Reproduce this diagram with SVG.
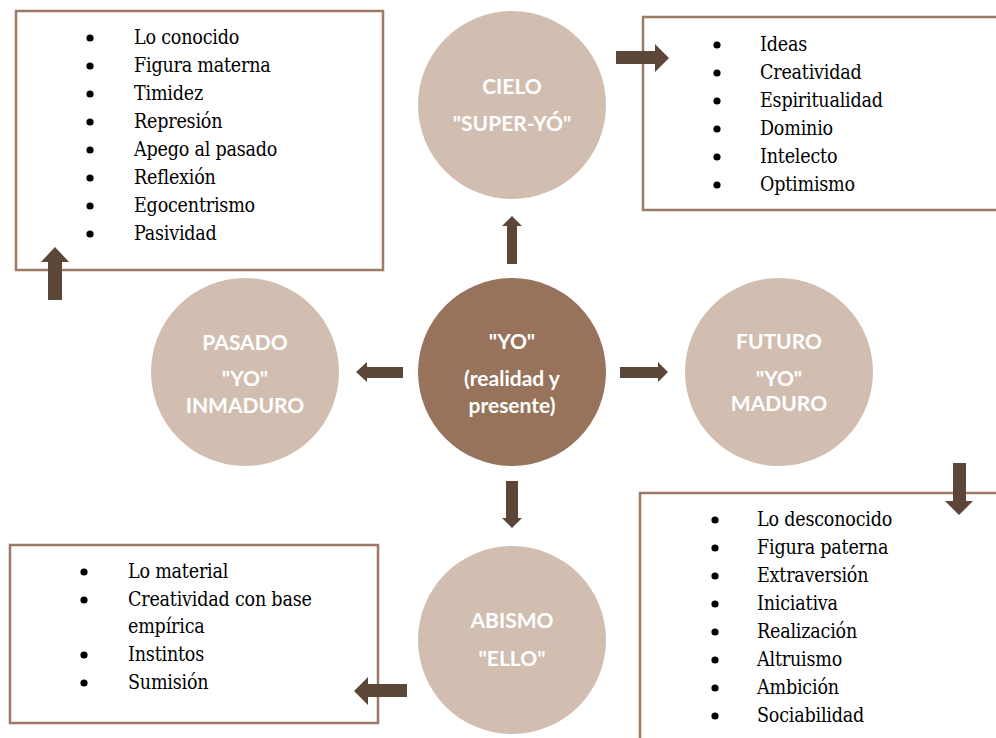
<svg xmlns="http://www.w3.org/2000/svg" width="996" height="738" viewBox="0 0 996 738">
<style>
.box{fill:#fff;stroke:#9C7A65;stroke-width:2.5}
.lc{fill:#D1BEB1}
.dc{fill:#98735B}
.lbl{font-family:Lato,"Liberation Sans",sans-serif;font-weight:bold;font-size:21px;fill:#fff;text-anchor:middle}
.it{font-family:'DejaVu Serif Condensed','Liberation Serif','DejaVu Serif',serif;font-size:19.5px;letter-spacing:-0.2px;fill:#000}
.bul{fill:#000}
.arr{fill:#5C4637}
</style>
<defs><circle id="b" r="3.6" class="bul"/></defs>
<rect width="996" height="738" fill="#fff"/>
<g id="box-past">
<rect class="box" x="16" y="11" width="367" height="259"/>
<g class="it">
<text x="134" y="44">Lo conocido</text>
<text x="134" y="72">Figura materna</text>
<text x="134" y="100">Timidez</text>
<text x="134" y="128">Represión</text>
<text x="134" y="156">Apego al pasado</text>
<text x="134" y="184">Reflexión</text>
<text x="134" y="212">Egocentrismo</text>
<text x="134" y="240">Pasividad</text>
</g>
<use href="#b" x="90" y="38"/><use href="#b" x="90" y="66"/><use href="#b" x="90" y="94"/><use href="#b" x="90" y="122"/>
<use href="#b" x="90" y="150"/><use href="#b" x="90" y="178"/><use href="#b" x="90" y="206"/><use href="#b" x="90" y="234"/>
</g>
<g id="box-cielo">
<rect class="box" x="643" y="17" width="370" height="193"/>
<g class="it">
<text x="760" y="51">Ideas</text>
<text x="760" y="79">Creatividad</text>
<text x="760" y="107">Espiritualidad</text>
<text x="760" y="135">Dominio</text>
<text x="760" y="163">Intelecto</text>
<text x="760" y="191">Optimismo</text>
</g>
<use href="#b" x="717" y="45"/><use href="#b" x="717" y="73"/><use href="#b" x="717" y="101"/>
<use href="#b" x="717" y="129"/><use href="#b" x="717" y="157"/><use href="#b" x="717" y="185"/>
</g>
<g id="box-future">
<rect class="box" x="640" y="493" width="370" height="260"/>
<g class="it">
<text x="757" y="526">Lo desconocido</text>
<text x="757" y="554">Figura paterna</text>
<text x="757" y="582">Extraversión</text>
<text x="757" y="610">Iniciativa</text>
<text x="757" y="638">Realización</text>
<text x="757" y="666">Altruismo</text>
<text x="757" y="694">Ambición</text>
<text x="757" y="722">Sociabilidad</text>
</g>
<use href="#b" x="715" y="520"/><use href="#b" x="715" y="548"/><use href="#b" x="715" y="576"/><use href="#b" x="715" y="604"/>
<use href="#b" x="715" y="632"/><use href="#b" x="715" y="660"/><use href="#b" x="715" y="688"/><use href="#b" x="715" y="716"/>
</g>
<g id="box-ello">
<rect class="box" x="10" y="545" width="368" height="178"/>
<g class="it">
<text x="128" y="578">Lo material</text>
<text x="128" y="606">Creatividad con base</text>
<text x="128" y="633">empírica</text>
<text x="128" y="661">Instintos</text>
<text x="128" y="689">Sumisión</text>
</g>
<use href="#b" x="84" y="572"/><use href="#b" x="84" y="600"/><use href="#b" x="84" y="655"/><use href="#b" x="84" y="683"/>
</g>
<g id="node-cielo">
<circle class="lc" cx="512" cy="105" r="94"/>
<text class="lbl" x="512" y="94">CIELO</text>
<text class="lbl" x="512" y="131">"SUPER-YÓ"</text>
</g>
<g id="node-pasado">
<circle class="lc" cx="245" cy="372" r="94"/>
<text class="lbl" x="245" y="350">PASADO</text>
<text class="lbl" x="245" y="386">"YO"</text>
<text class="lbl" x="245" y="413">INMADURO</text>
</g>
<g id="node-yo">
<circle class="dc" cx="512" cy="372" r="94"/>
<text class="lbl" x="512" y="349">"YO"</text>
<text class="lbl" x="512" y="386">(realidad y</text>
<text class="lbl" x="512" y="413">presente)</text>
</g>
<g id="node-futuro">
<circle class="lc" cx="779" cy="372" r="94"/>
<text class="lbl" x="779" y="349">FUTURO</text>
<text class="lbl" x="779" y="386">"YO"</text>
<text class="lbl" x="779" y="411">MADURO</text>
</g>
<g id="node-abismo">
<circle class="lc" cx="512" cy="640" r="94"/>
<text class="lbl" x="512" y="628">ABISMO</text>
<text class="lbl" x="512" y="666">"ELLO"</text>
</g>
<g id="connectors" class="arr">
<polygon points="616,51 655,51 655,44 669,58 655,72 655,64 616,64"/>
<polygon points="48,300 48,262 41,262 55,247 69,262 62,262 62,300"/>
<polygon points="507,264 507,226 502,226 512,216 522,226 517,226 517,264"/>
<polygon points="403,367 367,367 367,362 356,372 367,382 367,378 403,378"/>
<polygon points="620,367 658,367 658,362 668,372 658,382 658,378 620,378"/>
<polygon points="506,481 518,481 518,518 522,518 512,528 502,518 506,518"/>
<polygon points="953,463 966,463 966,501 973,501 959,515 945,501 953,501"/>
<polygon points="407,684 368,684 368,677 354,691 368,705 368,697 407,697"/>
</g>
</svg>
